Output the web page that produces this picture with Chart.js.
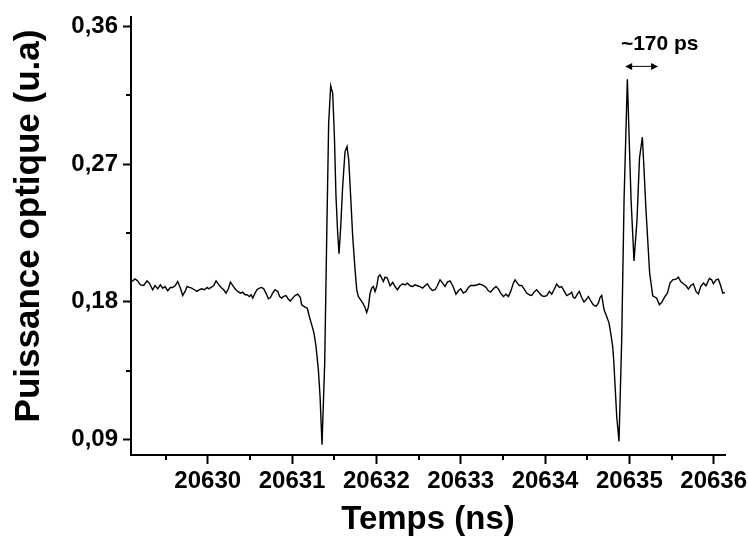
<!DOCTYPE html>
<html>
<head>
<meta charset="utf-8">
<script src="https://cdn.jsdelivr.net/npm/chart.js@4/dist/chart.umd.min.js"></script>
<style>
  html, body { margin: 0; padding: 0; background: #fff; }
  #wrap { width: 748px; height: 536px; }
</style>
</head>
<body>
<div id="wrap"><canvas id="trace"></canvas></div>
<script>
// temps (ns) et puissance optique (u.a)
const temps = [
  20629.102, 20629.138, 20629.170, 20629.201, 20629.241, 20629.280, 20629.308, 20629.347, 20629.375, 20629.407,
  20629.438, 20629.466, 20629.494, 20629.525, 20629.557, 20629.585, 20629.616, 20629.644, 20629.676, 20629.703,
  20629.731, 20629.755, 20629.782, 20629.810, 20629.842, 20629.873, 20629.901, 20629.929, 20629.960, 20629.992,
  20630.012, 20630.039, 20630.071, 20630.099, 20630.126, 20630.158, 20630.189, 20630.217, 20630.245, 20630.269,
  20630.296, 20630.324, 20630.356, 20630.387, 20630.415, 20630.442, 20630.466, 20630.494, 20630.514, 20630.534,
  20630.561, 20630.584, 20630.612, 20630.640, 20630.664, 20630.691, 20630.719, 20630.743, 20630.770, 20630.798,
  20630.830, 20630.853, 20630.877, 20630.901, 20630.928, 20630.956, 20630.980, 20631.007, 20631.035, 20631.067,
  20631.098, 20631.114, 20631.154, 20631.181, 20631.205, 20631.233, 20631.260, 20631.284, 20631.312, 20631.332,
  20631.355, 20631.387, 20631.411, 20631.434, 20631.458, 20631.482, 20631.502, 20631.521, 20631.541, 20631.557,
  20631.577, 20631.600, 20631.628, 20631.652, 20631.672, 20631.695, 20631.719, 20631.747, 20631.767, 20631.786,
  20631.814, 20631.838, 20631.865, 20631.885, 20631.905, 20631.925, 20631.944, 20631.964, 20631.984, 20632.004,
  20632.023, 20632.043, 20632.063, 20632.083, 20632.102, 20632.130, 20632.162, 20632.194, 20632.221, 20632.249,
  20632.281, 20632.312, 20632.340, 20632.368, 20632.399, 20632.431, 20632.458, 20632.486, 20632.518, 20632.549,
  20632.577, 20632.605, 20632.636, 20632.664, 20632.696, 20632.723, 20632.755, 20632.786, 20632.814, 20632.842,
  20632.873, 20632.905, 20632.944, 20632.972, 20633.000, 20633.031, 20633.063, 20633.091, 20633.118, 20633.170,
  20633.221, 20633.268, 20633.300, 20633.328, 20633.355, 20633.387, 20633.419, 20633.446, 20633.474, 20633.506,
  20633.537, 20633.565, 20633.593, 20633.624, 20633.644, 20633.672, 20633.695, 20633.723, 20633.751, 20633.782,
  20633.814, 20633.842, 20633.869, 20633.901, 20633.933, 20633.960, 20633.988, 20634.020, 20634.051, 20634.079,
  20634.106, 20634.138, 20634.170, 20634.197, 20634.225, 20634.257, 20634.288, 20634.316, 20634.336, 20634.356,
  20634.383, 20634.407, 20634.435, 20634.462, 20634.486, 20634.514, 20634.541, 20634.573, 20634.605, 20634.632,
  20634.652, 20634.672, 20634.700, 20634.731, 20634.759, 20634.779, 20634.802, 20634.814, 20634.850, 20634.877,
  20634.909, 20634.937, 20634.976, 20635.020, 20635.055, 20635.090, 20635.120, 20635.154, 20635.168, 20635.197,
  20635.240, 20635.277, 20635.324, 20635.356, 20635.383, 20635.423, 20635.451, 20635.482, 20635.514, 20635.553,
  20635.581, 20635.609, 20635.640, 20635.672, 20635.700, 20635.727, 20635.759, 20635.790, 20635.818, 20635.846,
  20635.878, 20635.909, 20635.949, 20635.976, 20635.996, 20636.028, 20636.055, 20636.083, 20636.107, 20636.134
];
const puissance = [
  0.1933, 0.1950, 0.1937, 0.1911, 0.1907, 0.1937, 0.1922, 0.1879, 0.1907, 0.1885,
  0.1911, 0.1889, 0.1900, 0.1872, 0.1894, 0.1894, 0.1907, 0.1933, 0.1889, 0.1841,
  0.1868, 0.1900, 0.1894, 0.1889, 0.1879, 0.1868, 0.1879, 0.1885, 0.1879, 0.1894,
  0.1885, 0.1894, 0.1907, 0.1937, 0.1916, 0.1894, 0.1879, 0.1857, 0.1885, 0.1929,
  0.1907, 0.1885, 0.1868, 0.1857, 0.1863, 0.1846, 0.1846, 0.1835, 0.1846, 0.1824,
  0.1857, 0.1879, 0.1889, 0.1894, 0.1885, 0.1857, 0.1820, 0.1828, 0.1857, 0.1879,
  0.1868, 0.1835, 0.1824, 0.1835, 0.1841, 0.1817, 0.1806, 0.1824, 0.1841, 0.1850,
  0.1828, 0.1780, 0.1765, 0.1758, 0.1704, 0.1649, 0.1595, 0.1508, 0.1355, 0.1181,
  0.0865, 0.1399, 0.2227, 0.2968, 0.3212, 0.3164, 0.2881, 0.2489, 0.2249, 0.2114,
  0.2292, 0.2554, 0.2783, 0.2816, 0.2728, 0.2489, 0.2227, 0.2009, 0.1878, 0.1835,
  0.1813, 0.1791, 0.1765, 0.1730, 0.1765, 0.1856, 0.1889, 0.1900, 0.1867, 0.1900,
  0.1965, 0.1976, 0.1955, 0.1933, 0.1961, 0.1955, 0.1904, 0.1927, 0.1900, 0.1879,
  0.1905, 0.1918, 0.1911, 0.1922, 0.1905, 0.1900, 0.1911, 0.1905, 0.1900, 0.1890,
  0.1905, 0.1918, 0.1890, 0.1874, 0.1879, 0.1905, 0.1944, 0.1922, 0.1900, 0.1929,
  0.1937, 0.1907, 0.1850, 0.1872, 0.1885, 0.1857, 0.1868, 0.1894, 0.1907, 0.1907,
  0.1916, 0.1907, 0.1894, 0.1872, 0.1863, 0.1885, 0.1900, 0.1885, 0.1857, 0.1835,
  0.1850, 0.1835, 0.1868, 0.1922, 0.1944, 0.1922, 0.1907, 0.1907, 0.1885, 0.1857,
  0.1846, 0.1841, 0.1863, 0.1879, 0.1857, 0.1841, 0.1835, 0.1841, 0.1868, 0.1850,
  0.1879, 0.1916, 0.1894, 0.1900, 0.1872, 0.1841, 0.1850, 0.1863, 0.1828, 0.1824,
  0.1850, 0.1868, 0.1828, 0.1798, 0.1813, 0.1835, 0.1807, 0.1780, 0.1770, 0.1791,
  0.1828, 0.1842, 0.1748, 0.1704, 0.1661, 0.1595, 0.1508, 0.1421, 0.1050, 0.0886,
  0.1551, 0.2467, 0.3256, 0.2467, 0.2068, 0.2330, 0.2740, 0.2877, 0.2729, 0.2400,
  0.1990, 0.1839, 0.1824, 0.1781, 0.1796, 0.1835, 0.1857, 0.1922, 0.1944, 0.1948,
  0.1961, 0.1933, 0.1918, 0.1905, 0.1883, 0.1905, 0.1918, 0.1868, 0.1852, 0.1900,
  0.1922, 0.1905, 0.1953, 0.1944, 0.1918, 0.1944, 0.1948, 0.1905, 0.1857, 0.1861
];

// graduations
const xMajor = [20630, 20631, 20632, 20633, 20634, 20635, 20636];
const xMinor = [20629.5, 20630.5, 20631.5, 20632.5, 20633.5, 20634.5, 20635.5];
const yMajor = [0.09, 0.18, 0.27, 0.36];
const yMinor = [0.135, 0.225, 0.315];

const police = "'Liberation Sans', Arial, sans-serif";

// petites graduations, titre vertical et annotation ~170 ps
const extras = {
    id: 'extras',
    afterDraw(chart) {
        const { ctx, chartArea } = chart;
        const x = chart.scales.x, y = chart.scales.y;
        ctx.save();
        ctx.strokeStyle = '#000';
        ctx.lineWidth = 2;
        ctx.beginPath();
        xMinor.forEach(v => {
            const px = Math.round(x.getPixelForValue(v));
            ctx.moveTo(px, chartArea.bottom);
            ctx.lineTo(px, chartArea.bottom + 5);
        });
        yMinor.forEach(v => {
            const py = Math.round(y.getPixelForValue(v));
            ctx.moveTo(chartArea.left - 5, py);
            ctx.lineTo(chartArea.left, py);
        });
        ctx.stroke();

        // titre de l'axe y
        ctx.fillStyle = '#000';
        ctx.save();
        ctx.translate(29, 226);
        ctx.rotate(-Math.PI / 2);
        ctx.font = 'bold 35px ' + police;
        ctx.textAlign = 'center';
        ctx.textBaseline = 'middle';
        ctx.fillText('Puissance optique (u.a)', 0, 0);
        ctx.restore();

        // fleche double
        const x1 = x.getPixelForValue(20634.95), x2 = x.getPixelForValue(20635.34);
        const ya = y.getPixelForValue(0.334);
        ctx.lineWidth = 1;
        ctx.beginPath();
        ctx.moveTo(x1 + 4, ya);
        ctx.lineTo(x2 - 4, ya);
        ctx.stroke();
        ctx.beginPath();
        ctx.moveTo(x1, ya); ctx.lineTo(x1 + 7, ya - 3.5); ctx.lineTo(x1 + 7, ya + 3.5); ctx.closePath();
        ctx.moveTo(x2, ya); ctx.lineTo(x2 - 7, ya - 3.5); ctx.lineTo(x2 - 7, ya + 3.5); ctx.closePath();
        ctx.fill();

        ctx.font = 'bold 21px ' + police;
        ctx.textAlign = 'center';
        ctx.textBaseline = 'middle';
        ctx.fillText('~170 ps', x.getPixelForValue(20635.36), y.getPixelForValue(0.3487));
        ctx.restore();
    }
};

const ctx = document.getElementById('trace').getContext('2d');
new Chart(ctx, {
    type: 'line',
    data: {
        datasets: [{
            data: temps.map((t, i) => ({ x: t, y: puissance[i] })),
            borderColor: '#000',
            borderWidth: 1.4,
            pointRadius: 0,
            tension: 0,
            fill: false
        }]
    },
    options: {
        responsive: true,
        maintainAspectRatio: false,
        animation: false,
        layout: { padding: { top: 17, right: 23, left: 0, bottom: 0 } },
        plugins: { legend: { display: false }, tooltip: { enabled: false } },
        scales: {
            x: {
                type: 'linear',
                min: 20629.09,
                max: 20636.134,
                afterBuildTicks: s => { s.ticks = xMajor.map(v => ({ value: v })); },
                afterFit: s => { s.height = 81; s.paddingLeft = 0; s.paddingRight = 0; },
                grid: { drawOnChartArea: false, drawTicks: true, tickLength: 9, tickWidth: 2, tickColor: '#000' },
                border: { display: true, color: '#000', width: 2 },
                ticks: {
                    color: '#000',
                    padding: 3,
                    maxRotation: 0,
                    autoSkip: false,
                    font: { family: police, weight: 'bold', size: 24 },
                    callback: v => String(v)
                },
                title: {
                    display: true,
                    text: 'Temps (ns)',
                    color: '#000',
                    font: { family: police, weight: 'bold', size: 33, lineHeight: 1 },
                    padding: { top: 0, bottom: 0 }
                }
            },
            y: {
                min: 0.0798,
                max: 0.3663,
                afterBuildTicks: s => { s.ticks = yMajor.map(v => ({ value: v })); },
                afterFit: s => { s.width = 131; s.paddingTop = 0; s.paddingBottom = 0; },
                grid: { drawOnChartArea: false, drawTicks: true, tickLength: 8, tickWidth: 2, tickColor: '#000' },
                border: { display: true, color: '#000', width: 2 },
                ticks: {
                    color: '#000',
                    padding: 5,
                    autoSkip: false,
                    font: { family: police, weight: 'bold', size: 24 },
                    callback: v => v.toFixed(2).replace('.', ',')
                },
                title: { display: false }
            }
        }
    },
    plugins: [extras]
});
</script>
</body>
</html>
